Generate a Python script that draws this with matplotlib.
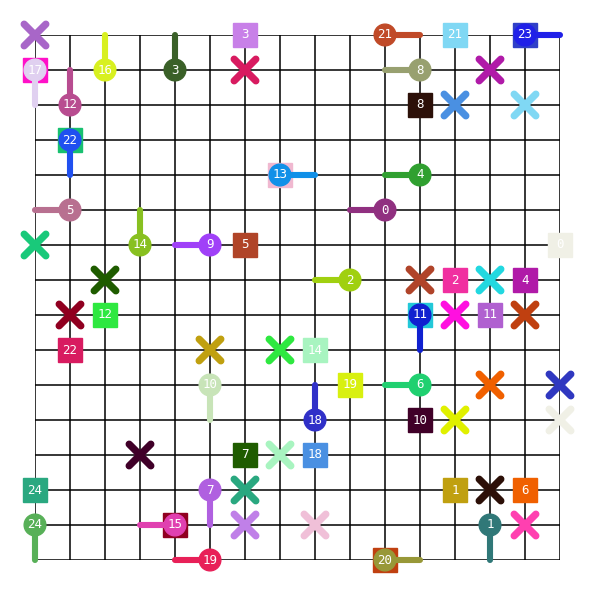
import matplotlib
matplotlib.use("Agg")
import matplotlib.pyplot as plt
from matplotlib.patches import Circle, Rectangle

n_lines = 16

# crosses: grid column, grid row, colour
cross_cols = [0, 6, 13, 12, 14, 0, 2, 1, 5, 7, 11, 13, 12, 14, 13, 15, 12, 15, 3, 7, 6, 6, 8, 13, 14]
cross_rows = [0, 1, 1, 2, 2, 6, 7, 8, 9, 9, 7, 7, 8, 8, 10, 10, 11, 11, 12, 12, 13, 14, 14, 13, 14]
cross_colors = ["#a866c8", "#d81b60", "#b01aa8", "#4a90e2", "#80d8f4", "#19c97a", "#1f5c00",
                "#900020", "#c0a010", "#2ee840", "#b0442a", "#22d8e0", "#ff10e0", "#c04010",
                "#f06000", "#3038c0", "#e0f000", "#f0f0e6", "#400028", "#a8f4c0", "#2aa880",
                "#c080e8", "#f0c0d8", "#2c1008", "#ff40b0"]

# squares (label "" = square sitting under a pin)
box_cols = [6, 0, 1, 7, 12, 14, 11, 6, 2, 1, 15, 12, 14, 11, 13, 8, 9, 11, 8, 6, 0, 4, 12, 14, 10]
box_rows = [0, 1, 3, 4, 0, 0, 2, 6, 8, 9, 6, 7, 7, 8, 8, 9, 10, 11, 12, 12, 13, 14, 13, 13, 15]
box_labels = ["3", "", "", "", "21", "", "8", "5", "12", "22", "0", "2", "4", "", "11", "14",
              "19", "10", "18", "7", "24", "", "1", "6", ""]
box_colors = ["#c880e8", "#ff10c8", "#18c070", "#f0b8d0", "#80d8f4", "#3040c8", "#2c1008",
              "#b04428", "#2ee840", "#d81b60", "#f0f0e6", "#f030a0", "#b01aa8", "#22c8d8",
              "#b060d0", "#a8f4c0", "#d8f010", "#400028", "#4a90e2", "#1f5c00", "#2aa880",
              "#900020", "#c0a010", "#f06000", "#c04010"]

# pins: circle with a stem pointing one cell away
pin_cols = [0, 2, 4, 1, 1, 7, 10, 11, 14, 11, 1, 10, 3, 5, 9, 11, 5, 11, 8, 5, 0, 4, 5, 13, 10]
pin_rows = [1, 1, 1, 2, 3, 4, 0, 1, 0, 4, 5, 5, 6, 6, 7, 8, 10, 10, 11, 13, 14, 14, 15, 14, 15]
pin_labels = ["17", "16", "3", "12", "22", "13", "21", "8", "23", "4", "5", "0", "14", "9", "2",
              "11", "10", "6", "18", "7", "24", "15", "19", "1", "20"]
pin_dirs = ["down", "up", "up", "up", "down", "right", "right", "left", "right", "left", "left",
            "left", "up", "left", "left", "down", "down", "left", "up", "down", "down", "left",
            "left", "down", "right"]
pin_colors = ["#e0d0f0", "#d8f020", "#3a6028", "#b84c90", "#2050f0", "#1090e8", "#c04a28",
              "#98a070", "#2020e8", "#30a030", "#b87090", "#903080", "#88c020", "#a040f8",
              "#a0d010", "#1020d0", "#c8e4b8", "#20d070", "#3030c8", "#b060e0", "#58b058",
              "#e040b0", "#e82058", "#307878", "#989838"]

steps = {"up": (0, -1), "down": (0, 1), "left": (-1, 0), "right": (1, 0)}

fig = plt.figure(figsize=(6.01, 6.01), dpi=100)
ax = fig.add_axes([35 / 601, 41 / 601, 525 / 601, 525 / 601])
ax.set_xlim(0, n_lines - 1)
ax.set_ylim(n_lines - 1, 0)
ax.axis("off")

for i in range(n_lines):
    ax.plot([i, i], [0, n_lines - 1], color="black", lw=1.1, zorder=1)
    ax.plot([0, n_lines - 1], [i, i], color="black", lw=1.1, zorder=1)

txt = dict(color="white", fontsize=9, ha="center", va="center",
           family="DejaVu Sans Mono", zorder=6)

for c, r, lab, col in zip(box_cols, box_rows, box_labels, box_colors):
    ax.add_patch(Rectangle((c - 0.33, r - 0.33), 0.66, 0.66, color=col, zorder=2, clip_on=False))
    if lab:
        ax.text(c, r, lab, **txt)

d = 0.31
for c, r, col in zip(cross_cols, cross_rows, cross_colors):
    ax.plot([c - d, c + d], [r - d, r + d], color=col, lw=5.2, solid_capstyle="round", zorder=3, clip_on=False)
    ax.plot([c - d, c + d], [r + d, r - d], color=col, lw=5.2, solid_capstyle="round", zorder=3, clip_on=False)

for c, r, lab, dr, col in zip(pin_cols, pin_rows, pin_labels, pin_dirs, pin_colors):
    dx, dy = steps[dr]
    ax.plot([c, c + dx], [r, r + dy], color=col, lw=4.4, solid_capstyle="round", zorder=4, clip_on=False)
    ax.add_patch(Circle((c, r), 0.31, color=col, zorder=5, clip_on=False))
    ax.text(c, r, lab, **txt)

fig.savefig("out.png", dpi=100)
